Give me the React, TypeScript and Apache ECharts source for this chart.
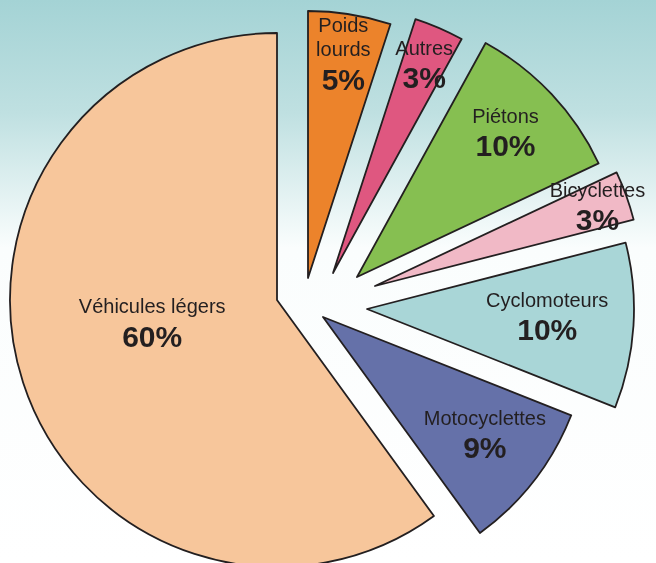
import React, { useEffect, useRef } from "react";
import * as echarts from "echarts";

// Categories in drawing order (clockwise from 12 o'clock)
const categories = [
  "Poids lourds",
  "Autres",
  "Piétons",
  "Bicyclettes",
  "Cyclomoteurs",
  "Motocyclettes",
  "Véhicules légers",
];
// Share of each category (%)
const shares = [5, 3, 10, 3, 10, 9, 60];

// Styles / layout (kept apart from the data)
const sliceColors = [
  "#ec832b",
  "#df5780",
  "#86bf51",
  "#f1b9c6",
  "#a9d6d7",
  "#6571a9",
  "#f7c69b",
];
const baseCenter = [277, 300];
const sliceShift = [
  [31, -22],
  [56, -27],
  [80, -23],
  [98, -14],
  [90, 9],
  [46, 17],
  [0, 0],
];
const labelShift = [
  [14, -88],
  [37, -82],
  [49, -50],
  [94, -32],
  [44, 0],
  [54, 35],
  [5, -18],
];
const lineBreakNames: Record<string, string> = { "Poids lourds": "Poids\nlourds" };

const FONT = "'Liberation Sans', Arial, Helvetica, sans-serif";
const INK = "#231f20";

export default function App() {
  const ref = useRef<HTMLDivElement>(null);
  useEffect(() => {
    if (!ref.current) return;
    const chart = echarts.init(ref.current, null, { renderer: "svg" });
    const series = categories.map((_, i) => ({
      type: "pie",
      center: [baseCenter[0] + sliceShift[i][0], baseCenter[1] + sliceShift[i][1]],
      radius: 267,
      startAngle: 90,
      clockwise: true,
      silent: true,
      avoidLabelOverlap: false,
      animation: false,
      z: 2,
      labelLine: { show: false },
      label: {
        position: "inside",
        color: INK,
        fontFamily: FONT,
        formatter: (p: any) => {
          const n = lineBreakNames[p.name] || p.name;
          return n
            .split("\n")
            .map((s: string) => `{n|${s}}`)
            .join("\n") + `\n{p|${p.value}%}`;
        },
        rich: {
          n: { fontSize: 20, lineHeight: 24, color: INK, fontFamily: FONT },
          p: { fontSize: 30, lineHeight: 36, fontWeight: 900, color: INK, fontFamily: FONT },
        },
      },
      labelLayout: { dx: labelShift[i][0], dy: labelShift[i][1] },
      emphasis: { disabled: true },
      data: categories.map((name, j) => ({
        name,
        value: shares[j],
        itemStyle:
          j === i
            ? { color: sliceColors[j], borderColor: INK, borderWidth: 1.8 }
            : { color: "rgba(0,0,0,0)", borderWidth: 0 },
        label: { show: j === i },
      })),
    }));
    chart.setOption({
      animation: false,
      graphic: [
        {
          type: "rect",
          z: -10,
          silent: true,
          shape: { x: 0, y: 0, width: 656, height: 563 },
          style: {
            fill: new echarts.graphic.LinearGradient(0, 0, 0, 1, [
              { offset: 0, color: "#a4d3d5" },
              { offset: 0.2, color: "#bfe0e1" },
              { offset: 0.44, color: "#fafdfd" },
              { offset: 1, color: "#ffffff" },
            ]),
          },
        },
      ],
      series,
    });
    return () => chart.dispose();
  }, []);
  return (
    <div
      ref={ref}
      style={{ position: "fixed", left: 0, top: 0, width: 656, height: 563 }}
    />
  );
}
